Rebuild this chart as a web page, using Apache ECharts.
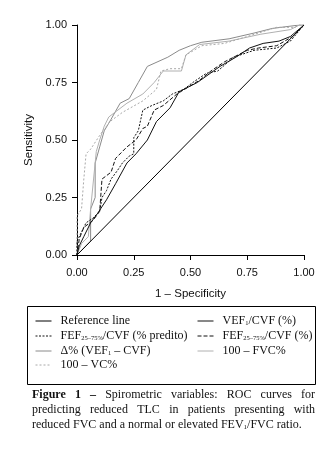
<!DOCTYPE html>
<html>
<head>
<meta charset="utf-8">
<script src="https://cdn.jsdelivr.net/npm/echarts@6/dist/echarts.min.js"></script>
<style>html,body{margin:0;padding:0;background:#fff}#c{width:332px;height:475px}</style>
</head>
<body>
<div id="c"></div>
<script>
// ---- data (x = 1 - specificity, y = sensitivity) ----
const seriesNames = ['Reference line','VEF1/CVF (%)','FEF25-75%/CVF (% predito)','FEF25-75%/CVF (%)','Δ% (VEF1 – CVF)','100 – FVC%','100 – VC%'];
const refLine = [[0,0],[1,1]];
const vef1cvf = [[0,0],[0.01,0.04],[0.03,0.08],[0.06,0.14],[0.09,0.18],[0.13,0.24],[0.17,0.31],[0.22,0.40],[0.26,0.44],[0.31,0.50],[0.35,0.58],[0.41,0.64],[0.45,0.71],[0.53,0.75],[0.63,0.82],[0.70,0.86],[0.76,0.90],[0.82,0.92],[0.89,0.93],[0.94,0.95],[1,1]];
const fefPred = [[0,0],[0,0.06],[0.02,0.10],[0.04,0.14],[0.07,0.16],[0.10,0.19],[0.11,0.25],[0.13,0.28],[0.15,0.33],[0.18,0.37],[0.20,0.40],[0.23,0.43],[0.25,0.44],[0.25,0.51],[0.27,0.54],[0.29,0.63],[0.33,0.65],[0.38,0.67],[0.42,0.70],[0.47,0.72],[0.51,0.75],[0.57,0.79],[0.62,0.80],[0.69,0.86],[0.78,0.89],[0.88,0.90],[0.94,0.93],[1,1]];
const fefPct = [[0,0],[0.01,0.07],[0.03,0.12],[0.07,0.15],[0.10,0.19],[0.11,0.33],[0.15,0.36],[0.17,0.42],[0.22,0.47],[0.26,0.50],[0.29,0.55],[0.31,0.56],[0.34,0.63],[0.38,0.65],[0.44,0.70],[0.49,0.73],[0.54,0.76],[0.59,0.80],[0.65,0.84],[0.75,0.89],[0.80,0.90],[0.88,0.91],[0.95,0.95],[1,1]];
const deltaPct = [[0,0],[0.03,0.03],[0.06,0.06],[0.06,0.20],[0.08,0.25],[0.08,0.40],[0.10,0.47],[0.12,0.54],[0.15,0.59],[0.19,0.66],[0.23,0.68],[0.27,0.75],[0.31,0.82],[0.40,0.86],[0.45,0.89],[0.50,0.91],[0.55,0.925],[0.67,0.94],[0.78,0.965],[0.86,0.985],[0.98,1],[1,1]];
const fvc = [[0,0],[0.02,0.05],[0.05,0.08],[0.06,0.20],[0.07,0.30],[0.085,0.45],[0.10,0.50],[0.12,0.56],[0.14,0.60],[0.22,0.66],[0.29,0.70],[0.34,0.75],[0.38,0.80],[0.46,0.80],[0.48,0.87],[0.54,0.915],[0.67,0.93],[0.81,0.96],[0.94,0.98],[0.98,1],[1,1]];
const vc = [[0,0],[0,0.17],[0.02,0.20],[0.03,0.33],[0.04,0.44],[0.06,0.46],[0.10,0.52],[0.145,0.58],[0.20,0.62],[0.29,0.67],[0.35,0.72],[0.37,0.80],[0.41,0.81],[0.46,0.81],[0.48,0.87],[0.55,0.91],[0.65,0.92],[0.75,0.95],[0.88,0.99],[0.96,0.99],[0.98,1],[1,1]];
const tickVals = [0,0.25,0.5,0.75,1];

const serif = "'Liberation Serif', serif";
const sans = "'Liberation Sans', sans-serif";
const legendLabels = {
  'Reference line':'Reference line',
  'VEF1/CVF (%)':'VEF{s|1}/CVF (%)',
  'FEF25-75%/CVF (% predito)':'FEF{s|25–75%}/CVF (% predito)',
  'FEF25-75%/CVF (%)':'FEF{s|25–75%}/CVF (%)',
  'Δ% (VEF1 – CVF)':'Δ% (VEF{s|1} – CVF)',
  '100 – FVC%':'100 – FVC%',
  '100 – VC%':'100 – VC%'
};
const styles = [
  {color:'#000', type:'solid', w:1},
  {color:'#111', type:'solid', w:1},
  {color:'#111', type:[2,1.5], w:1},
  {color:'#111', type:[4,2], w:1},
  {color:'#8a8a8a', type:'solid', w:1},
  {color:'#b0b0b0', type:'solid', w:1},
  {color:'#a8a8a8', type:[2,2], w:1}
];
const datas = [refLine, vef1cvf, fefPred, fefPct, deltaPct, fvc, vc];
// legend placement (col x, row center y)
const legPos = [[35,321],[197,321],[35,336],[197,336],[35,351],[197,351],[35,365]];

const chart = echarts.init(document.getElementById('c'), null, {renderer:'canvas'});
const legends = seriesNames.map((n,i)=>({
  data:[n], left:legPos[i][0], top:legPos[i][1]-6, padding:0, itemWidth:16, itemHeight:10, itemGap:0,
  selectedMode:false,
  itemStyle:{opacity:0},
  lineStyle:{color:styles[i].color, type:styles[i].type, width:1},
  formatter: name => legendLabels[name],
  textStyle:{fontFamily:serif, fontSize:12, color:'#111', lineHeight:12, padding:[0,0,0,4],
    rich:{s:{fontFamily:serif, fontSize:6.5, verticalAlign:'bottom', lineHeight:12, padding:[4,0,0,0], color:'#111'}}}
}));

// caption
const capLines = [
  {y:395, words:[{t:'Figure',b:true},{t:'1',b:true},{t:'–',b:true},{t:'Spirometric'},{t:'variables:'},{t:'ROC'},{t:'curves'},{t:'for'}]},
  {y:410, words:'predicting reduced TLC in patients presenting with'.split(' ').map(t=>({t}))}
];
const L = 32, R = 315, capSize = 12;
const cv = document.createElement('canvas').getContext('2d');
function fontOf(b){ return (b?'bold ':'')+capSize+'px '+serif; }
const graphics = [
  {type:'rect', shape:{x:27.5,y:306.5,width:288,height:78}, style:{fill:'none', stroke:'#000', lineWidth:1}}
];
capLines.forEach(line=>{
  let total=0; line.words.forEach(w=>{cv.font=fontOf(w.b); w.w=cv.measureText(w.t).width; total+=w.w;});
  const gap=(R-L-total)/(line.words.length-1);
  let x=L;
  line.words.forEach(w=>{
    graphics.push({type:'text', x:x, y:line.y, style:{text:w.t, font:fontOf(w.b), fill:'#111', verticalAlign:'middle'}});
    x+=w.w+gap;
  });
});
graphics.push({type:'text', x:L, y:425, style:{
  text:'reduced FVC and a normal or elevated FEV{s|1}/FVC ratio.', font:capSize+'px '+serif, fill:'#111', verticalAlign:'middle',
  rich:{s:{fontFamily:serif, fontSize:7, verticalAlign:'bottom', padding:[5,0,0,0], fill:'#111'}}
}});

const option = {
  backgroundColor:'#fff',
  animation:false,
  grid:{left:77, top:25, width:227, height:230, containLabel:false},
  xAxis:{type:'value', min:0, max:1, interval:0.25,
    name:'1 – Specificity', nameLocation:'middle', nameGap:33,
    nameTextStyle:{fontFamily:sans, fontSize:11.5, color:'#111'},
    axisLine:{lineStyle:{color:'#000', width:1}}, axisTick:{length:5, lineStyle:{color:'#000'}},
    axisLabel:{margin:12, fontFamily:sans, fontSize:11, color:'#111', formatter:v=>v.toFixed(2)},
    splitLine:{show:false}},
  yAxis:{type:'value', min:0, max:1, interval:0.25,
    name:'Sensitivity', nameLocation:'middle', nameGap:40, nameRotate:90,
    nameTextStyle:{fontFamily:sans, fontSize:11.5, color:'#111'},
    axisLine:{show:true, lineStyle:{color:'#000', width:1}}, axisTick:{show:true, length:5, lineStyle:{color:'#000'}},
    axisLabel:{margin:10, fontFamily:sans, fontSize:11, color:'#111', formatter:v=>v.toFixed(2)},
    splitLine:{show:false}},
  legend:legends,
  graphic:graphics,
  series: datas.map((d,i)=>({
    name:seriesNames[i], type:'line', data:d, symbol:'none', z: i===0?3:(i<4?4:2),
    lineStyle:{color:styles[i].color, type:styles[i].type, width:styles[i].w},
    itemStyle:{color:styles[i].color}
  }))
};
chart.setOption(option);
</script>
</body>
</html>
